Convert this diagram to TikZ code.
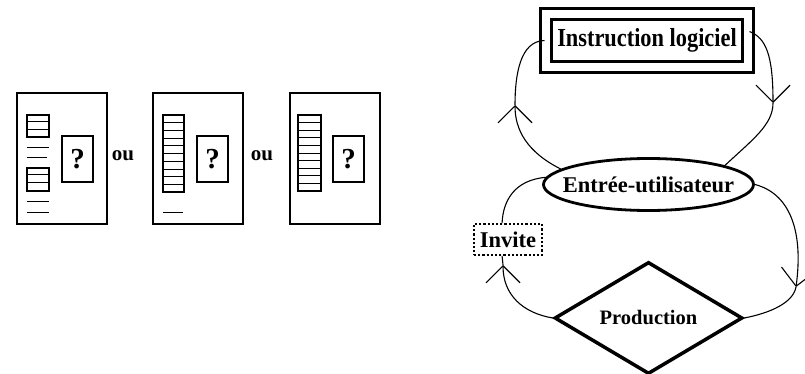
\documentclass[tikz,border=0pt]{standalone}
\usepackage{fontspec}
\setmainfont{Liberation Serif}
\newfontfamily\narrowfont[FakeStretch=0.86]{Liberation Serif}
\usetikzlibrary{arrows.meta,shapes.geometric}

\begin{document}
\begin{tikzpicture}[x=1pt,y=-1pt,
  screen/.style={draw, line width=2.2pt},
  qbox/.style={draw, line width=1.8pt},
  rowline/.style={line width=0.6pt},
  bigtext/.style={font=\bfseries\fontsize{22.5}{24}\selectfont},
  link/.style={line width=1.1pt},
  flow/.style={link, -{Straight Barb[length=17pt,width=34pt]}}]
  \useasboundingbox (0,0) rectangle (805,374);

  % Three screen layouts, each with a query box
  \foreach \cx/\qx/\k in {17/62/1, 153/197/2, 290/333/3} {
    \draw[screen] (\cx,93) rectangle ++(90,131);
    \draw[qbox] (\qx,136) rectangle ++(31,46);
    \node[font=\bfseries\fontsize{29}{29}\selectfont] (q\k) at (\qx+15.5,159) {?};
  }

  % First screen: two short lists with text lines
  \draw[qbox] (27,115) rectangle (49,137);
  \draw[rowline] (27,121) -- (49,121);
  \draw[rowline] (27,129) -- (49,129);
  \draw[rowline] (27,147) -- (49,147);
  \draw[rowline] (27,157) -- (47,157);
  \draw[qbox] (27,168) rectangle (49,191);
  \draw[rowline] (27,174) -- (49,174);
  \draw[rowline] (27,182) -- (49,182);
  \draw[rowline] (27,201) -- (49,201);
  \draw[rowline] (27,212) -- (49,212);

  % Second and third screens: one long list
  \draw[qbox] (163,115) rectangle (184,192);
  \draw[qbox] (298,115) rectangle (321,191);
  \foreach \k in {1,...,9} {
    \draw[rowline] (163,{115+\k*7.7}) -- (184,{115+\k*7.7});
    \draw[rowline] (298,{115+\k*7.6}) -- (321,{115+\k*7.6});
  }
  \draw[rowline] (163,212) -- (183,212);

  \node[font=\bfseries\fontsize{21}{22}\selectfont] (ou1) at (123,156) {ou};
  \node[font=\bfseries\fontsize{21}{22}\selectfont] (ou2) at (262,156) {ou};

  % Dialogue loop
  \node[draw, double, line width=3pt, double distance=8pt, minimum width=202pt,
    minimum height=53pt, inner sep=0pt,
    font=\narrowfont\bfseries\fontsize{26}{28}\selectfont] (instr) at (647,40.5) {Instruction logiciel};
  \node[draw, ellipse, line width=2.8pt, minimum width=210pt, minimum height=52pt,
    inner sep=0pt, bigtext] (entree) at (648.5,184.5) {\makebox[0pt]{Entrée-utilisateur}};
  \node[draw, dash pattern=on 2.2pt off 2pt, line width=1.6pt, minimum width=68pt,
    minimum height=31pt, inner sep=0pt, bigtext] (invite) at (508,239.5) {Invite};
  \node[draw, diamond, line width=3.5pt, minimum width=188pt, minimum height=104pt,
    inner sep=0pt, font=\bfseries\fontsize{20.5}{22}\selectfont] (prod) at (648.5,318) {Production};

  \coordinate (upL) at (515,105);
  \coordinate (upR) at (773,103);
  \coordinate (lowL) at (503,265);
  \coordinate (lowR) at (796,287);

  \draw[flow] (entree.170) .. controls (527,152) and (515,130) .. (upL);
  \draw[link] (upL) .. controls (515,75) and (520,41) .. (instr.west);
  \draw[flow] (instr.5) .. controls (766,38) and (773,55) .. (upR);
  \draw[link] (upR) .. controls (773,125) and (752,140) .. (entree.14);

  \draw[flow] (entree.east) .. controls (788,193) and (804,228) .. (lowR);
  \draw[link] (lowR) .. controls (793,303) and (770,313) .. (prod.east);
  \draw[flow] (prod.west) .. controls (523,313) and (503,295) .. (lowL);
  \draw[link] (lowL) -- (invite.250);
  \draw[link] (invite.110) .. controls (503,200) and (515,180) .. (entree.176);
\end{tikzpicture}
\end{document}
